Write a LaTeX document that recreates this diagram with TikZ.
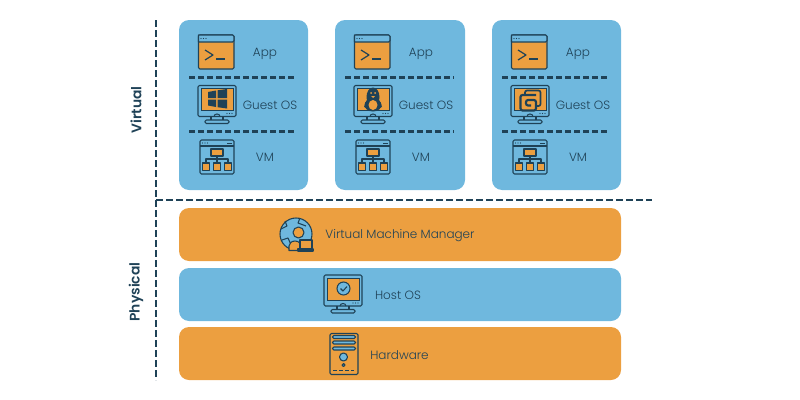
\documentclass[tikz,border=0pt]{standalone}
\usepackage{fontspec}
\setmainfont{Poppins}[UprightFont=* Light, BoldFont=* SemiBold]
\definecolor{panelblue}{HTML}{6FB8DE}
\definecolor{panelorange}{HTML}{EC9F40}
\definecolor{inkblue}{HTML}{1F4257}
\tikzset{
  x=0.75pt, y=-0.75pt,
  panel/.style = {rounded corners=7.5pt},
  divider/.style = {draw=inkblue, line width=1.7pt, dash pattern=on 4.5pt off 2.25pt},
  rule/.style = {draw=inkblue, line width=1.8pt, dash pattern=on 5pt off 2.5pt},
  icon/.style = {draw=inkblue, line width=0.8pt, line join=round},
  label/.style = {text=inkblue, font=\fontsize{9}{10}\selectfont, inner sep=0pt},
  side/.style = {text=inkblue, font=\fontsize{10.4}{12}\selectfont\bfseries, rotate=90, inner sep=0pt},
  % window with a terminal prompt
  pics/appicon/.style = {code={
    \draw[icon, fill=panelorange, rounded corners=1pt] (-17.5, -17) rectangle (18, 17);
    \draw[icon, fill=panelblue] (-17.5, -17) [rounded corners=1pt] -- (18, -17) -- (18, -10) [sharp corners] -- (-17.5, -10) -- cycle;
    \foreach \dotx in {-15, -12.5, -10}
      \fill[inkblue] (\dotx, -13.5) circle (0.7);
    \draw[icon, line width=0.9pt] (-11, -2) -- (-3, 3) -- (-11, 8);
    \draw[icon, line width=0.9pt] (0, 7) -- (9, 7);
  }},
  % monitor, the screen is left for the logo
  pics/screenicon/.style = {code={
    \draw[icon, fill=panelblue, rounded corners=1pt] (-19, -19) rectangle (19, 12);
    \fill[panelorange, draw=inkblue, line width=0.6pt] (-16, -16) rectangle (16, 6);
    \draw[icon] (-6, 12) -- (-6, 15) (6, 12) -- (6, 15);
    \draw[icon] (-3, 12) arc (180 : 0 : 3 and -2.5);
    \draw[icon, fill=panelblue, rounded corners=1pt] (-12, 15.5) rectangle (12, 19);
    \foreach \dotx in {10, 12.5, 15}
      \fill[inkblue] (\dotx, 9) circle (0.6);
  }},
  % window holding a small tree chart
  pics/vmicon/.style = {code={
    \draw[icon, rounded corners=1pt] (-17, -17) rectangle (17, 17);
    \draw[icon] (-17, -11) -- (17, -11);
    \foreach \dotx in {-14.5, -12, -9.5}
      \fill[inkblue] (\dotx, -14) circle (0.6);
    \draw[inkblue, line width=0.7pt] (10, -14) -- (15, -14);
    \draw[icon] (0, -2) -- (0, 6) (-11, 6) -- (-11, 2) -- (11, 2) -- (11, 6);
    \draw[icon, fill=panelorange] (-6, -8) rectangle (6, -1);
    \draw[icon, fill=panelorange] (-14.5, 6) rectangle (-7.5, 13.5);
    \draw[icon, fill=panelorange] (-3.5, 6) rectangle (3.5, 13.5);
    \draw[icon, fill=panelorange] (7.5, 6) rectangle (14.5, 13.5);
  }}
}
\begin{document}
\begin{tikzpicture}
  \useasboundingbox (0, 0) rectangle (800, 400);

  % the three guest stacks
  \foreach \stackx/\stackw/\stackname in {179/129/one, 335/130/two, 492/129/three} {
    \fill[panelblue, panel] (\stackx, 20) rectangle ++(\stackw, 170);
    \draw[divider] (\stackx + 10, 77.5) -- ++(\stackw - 21, 0);
    \draw[divider] (\stackx + 10, 131.5) -- ++(\stackw - 21, 0);
    \pic at (\stackx + 37, 52) {appicon};
    \pic at (\stackx + 38, 104.5) {screenicon};
    \pic at (\stackx + 38, 157) {vmicon};
    \node[label] (app\stackname) at (\stackx + 86, 53.5) {App};
    \node[label] (guest\stackname) at (\stackx + 91, 105.5) {Guest OS};
    \node[label] (vm\stackname) at (\stackx + 86, 157.5) {VM};
  }

  % logos on the guest screens
  \fill[inkblue] (208, 92) -- (216, 90.5) -- (216, 98) -- (208, 98) -- cycle;
  \fill[inkblue] (217.5, 90.3) -- (227, 89) -- (227, 98) -- (217.5, 98) -- cycle;
  \fill[inkblue] (208, 99.5) -- (216, 99.5) -- (216, 107) -- (208, 105.5) -- cycle;
  \fill[inkblue] (217.5, 99.5) -- (227, 99.5) -- (227, 108.5) -- (217.5, 107.2) -- cycle;

  \fill[inkblue] (373, 97) ellipse (6.5 and 9.5);
  \fill[inkblue] (373, 105) ellipse (8.5 and 6.5);
  \fill[inkblue] (364, 107) -- (367, 100) -- (368, 108) -- cycle;
  \fill[inkblue] (382, 107) -- (379, 100) -- (378, 108) -- cycle;
  \fill[panelorange] (373, 105) ellipse (4.5 and 5);
  \fill[panelorange] (371, 93) circle (1) (375, 93) circle (1);
  \fill[panelorange] (371, 96) -- (375, 96) -- (373, 98) -- cycle;

  \draw[inkblue, line width=1.3pt, rounded corners=1.5pt] (525, 95) -- (525, 90.5) -- (540.5, 90.5) -- (540.5, 106) -- (536, 106);
  \draw[inkblue, line width=1.6pt, rounded corners=1.5pt] (536, 95) -- (520.5, 95) -- (520.5, 110.5) -- (536, 110.5) -- (536, 100) -- (526, 100) -- (526, 105.5) -- (531, 105.5);

  % physical layers
  \fill[panelorange, panel] (179, 208) rectangle (621, 261);
  \fill[panelblue, panel] (179, 268) rectangle (621, 321);
  \fill[panelorange, panel] (179, 327) rectangle (621, 380);

  % globe with operator
  \draw[icon, fill=panelblue] (296, 234) circle (16);
  \draw[icon] (281, 229) -- (287, 226) -- (285, 221) (300, 218) -- (298, 223) -- (306, 226) (282, 240) -- (288, 238) -- (292, 247);
  \draw[icon, fill=panelorange] (298.5, 232.5) circle (5.5);
  \draw[icon, fill=panelorange] (289, 250.5) -- (289, 246) arc (180 : 0 : 6 and -5) -- (301, 250.5) -- cycle;
  \draw[icon, fill=panelorange] (300, 240) rectangle (312, 249);
  \draw[icon, fill=panelblue] (298, 249) rectangle (313, 251);

  \pic at (343, 294) {screenicon};
  \draw[icon, fill=panelblue] (343.5, 288.5) circle (6.5);
  \draw[icon] (340.5, 288.5) -- (343, 291) -- (347, 286.5);

  % tower case
  \draw[icon, rounded corners=1pt] (330, 333.5) rectangle (358, 374.5);
  \foreach \sloty in {335.5, 341, 347}
    \draw[icon, fill=panelblue, rounded corners=1pt] (332.5, \sloty) rectangle (355.5, \sloty + 3);
  \draw[icon, fill=panelblue] (343.5, 357) circle (4);
  \draw[icon, fill=panelblue] (343.5, 365) circle (1.5);
  \draw[icon, dash pattern=on 3pt off 1.5pt] (333, 370.5) -- (354, 370.5);

  \node[label] (manager) at (400, 235.5) {Virtual Machine Manager};
  \node[label] (hostos) at (398, 295) {Host OS};
  \node[label] (hardware) at (399.5, 355) {Hardware};

  \node[side] (virtual) at (136, 110) {Virtual};
  \node[side] (physical) at (136, 292) {Physical};

  \draw[rule] (156, 20) -- (156, 380);
  \draw[rule] (156, 200) -- (652, 200);
\end{tikzpicture}
\end{document}
